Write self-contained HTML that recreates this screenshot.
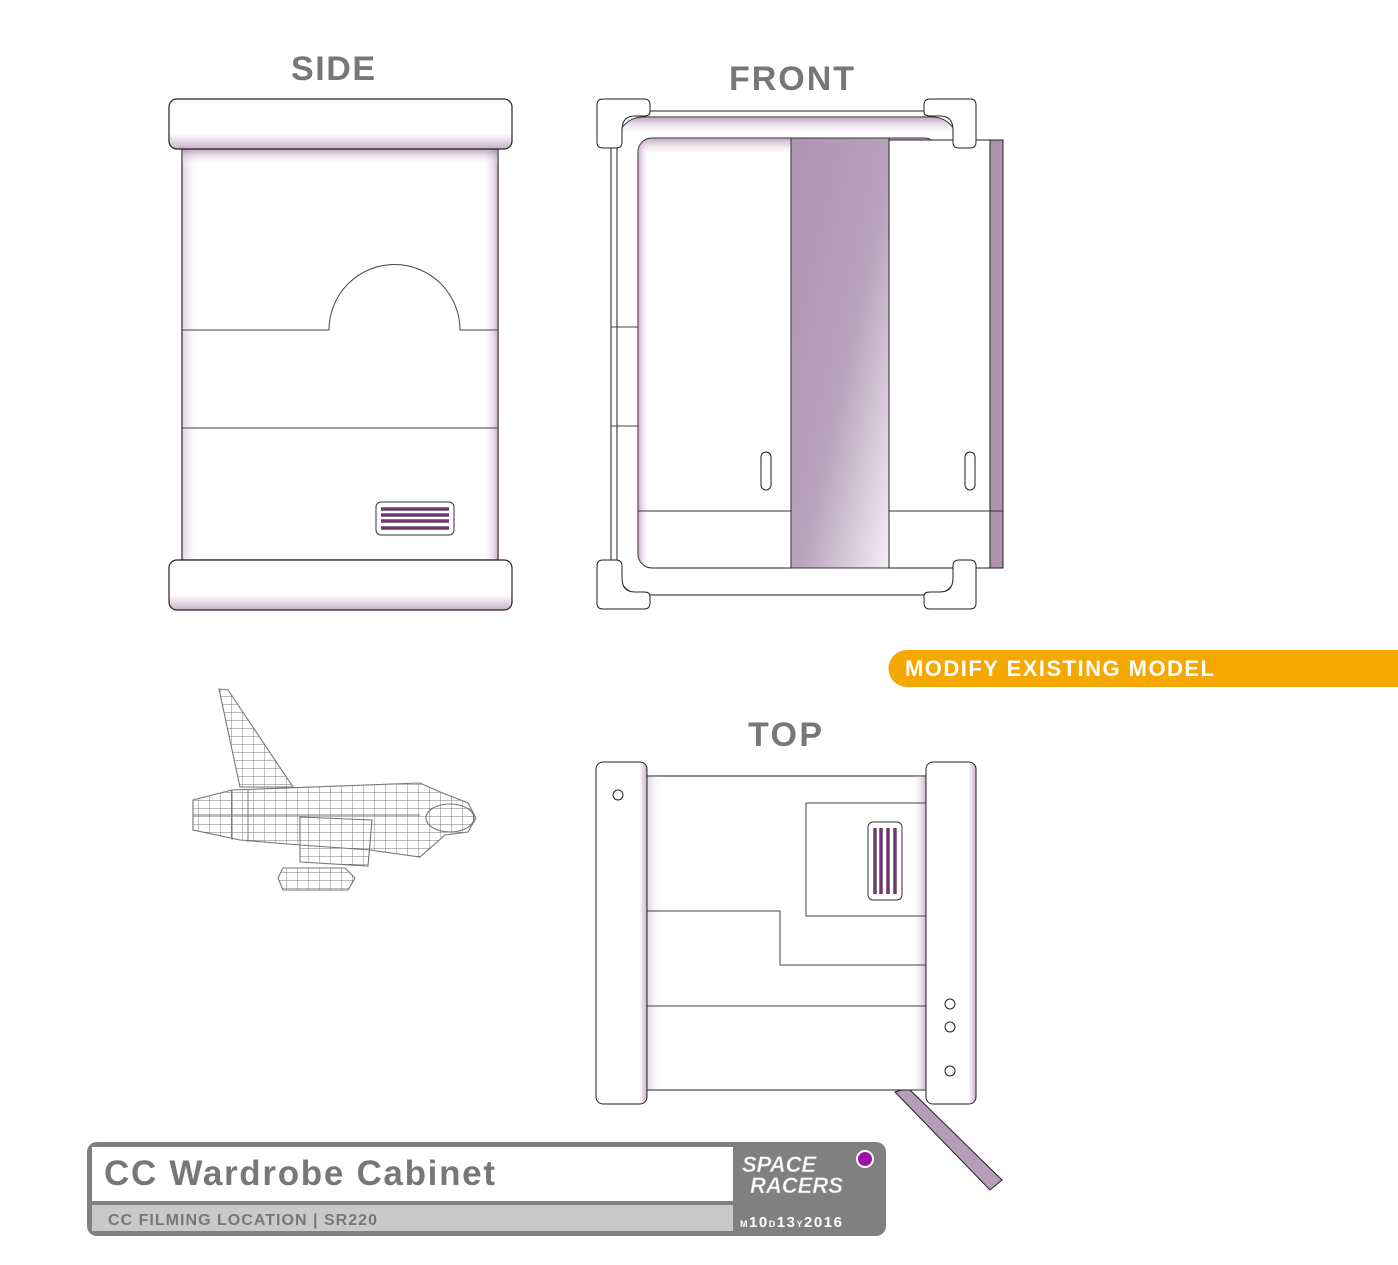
<!DOCTYPE html>
<html><head><meta charset="utf-8"><style>
html,body{margin:0;padding:0;background:#fff}
svg{display:block}
</style></head><body>
<svg width="1398" height="1265" viewBox="0 0 1398 1265" xmlns="http://www.w3.org/2000/svg" font-family="Liberation Sans, Arial, sans-serif">
<defs>
<linearGradient id="lv" x1="0" x2="1" y1="0" y2="0"><stop offset="0" stop-color="#8a5a8a" stop-opacity=".25"/><stop offset=".06" stop-color="#fff" stop-opacity="0"/><stop offset=".95" stop-color="#fff" stop-opacity="0"/><stop offset="1" stop-color="#8a5a8a" stop-opacity=".45"/></linearGradient>
<linearGradient id="tv" x1="0" x2="0" y1="0" y2="1"><stop offset="0" stop-color="#8a5a8a" stop-opacity=".55"/><stop offset=".04" stop-color="#fff" stop-opacity="0"/><stop offset="1" stop-color="#fff" stop-opacity="0"/></linearGradient>
<linearGradient id="cap" x1="0" x2="0" y1="0" y2="1"><stop offset="0" stop-color="#fff"/><stop offset=".7" stop-color="#fff"/><stop offset="1" stop-color="#c8b0c8"/></linearGradient>
<linearGradient id="strip" x1="0" x2="1" y1="0" y2="1"><stop offset="0" stop-color="#ad93b0"/><stop offset=".55" stop-color="#b9a3bd"/><stop offset="1" stop-color="#f5eef5"/></linearGradient>
<linearGradient id="barL" x1="0" x2="1"><stop offset="0" stop-color="#fff"/><stop offset=".85" stop-color="#fff"/><stop offset="1" stop-color="#c8b0c8"/></linearGradient>
<linearGradient id="tl" x1="0" x2="1"><stop offset="0" stop-color="#8a5a8a" stop-opacity=".5"/><stop offset=".04" stop-color="#fff" stop-opacity="0"/></linearGradient>
<pattern id="grid" width="11" height="8" patternUnits="userSpaceOnUse"><path d="M0 0H11M0 0V8" stroke="#777" stroke-width=".9" fill="none"/></pattern>
</defs>

<!-- SIDE -->
<text x="291" y="80" textLength="84" font-size="34" font-weight="bold" fill="#777">SIDE</text>
<rect x="182" y="149" width="316" height="411" fill="#fff" stroke="#222" stroke-width="1.2"/>
<rect x="182" y="149" width="316" height="411" fill="url(#lv)"/>
<rect x="182" y="149" width="316" height="411" fill="url(#tv)"/>
<path d="M182 330H329A65 65 0 0 1 460 330H498" fill="none" stroke="#444"/>
<line x1="182" y1="428" x2="498" y2="428" stroke="#444"/>
<rect x="376" y="502" width="78" height="33" rx="5" fill="#fff" stroke="#333"/>
<g stroke="#6b3a6b" stroke-width="3.5"><line x1="381" y1="509" x2="449" y2="509"/><line x1="381" y1="515" x2="449" y2="515"/><line x1="381" y1="521" x2="449" y2="521"/><line x1="381" y1="528" x2="449" y2="528"/></g>
<rect x="169" y="99" width="343" height="50" rx="8" fill="url(#cap)" stroke="#222" stroke-width="1.2"/>
<rect x="169" y="560" width="343" height="50" rx="8" fill="url(#cap)" stroke="#222" stroke-width="1.2"/>

<!-- FRONT -->
<text x="729" y="90" textLength="125" font-size="34" font-weight="bold" fill="#777">FRONT</text>
<path d="M611 148V565M650 111H925" stroke="#222" fill="none"/>
<rect x="617" y="117" width="341" height="478" rx="26" fill="#fff" stroke="#222"/>
<rect x="617" y="117" width="341" height="478" rx="26" fill="url(#tv)"/>
<line x1="611" y1="327" x2="638" y2="327" stroke="#444"/>
<line x1="611" y1="426" x2="638" y2="426" stroke="#444"/>
<rect x="638" y="138" width="300" height="430" rx="14" fill="#fff" stroke="#222"/>
<rect x="638" y="138" width="300" height="430" rx="14" fill="url(#tl)"/>
<rect x="638" y="138" width="300" height="430" rx="14" fill="url(#tv)"/>
<rect x="791" y="138" width="98" height="430" fill="url(#strip)" stroke="#333"/>
<rect x="889" y="140" width="101" height="428" fill="#fff" stroke="#222"/>
<rect x="990" y="140" width="13" height="428" fill="#ad93b0" stroke="#222"/>
<line x1="638" y1="511" x2="791" y2="511" stroke="#333"/>
<line x1="889" y1="511" x2="1003" y2="511" stroke="#333"/>
<rect x="761" y="452" width="10" height="38" rx="5" fill="#fff" stroke="#222"/>
<rect x="965" y="452" width="10" height="38" rx="5" fill="#fff" stroke="#222"/>
<g fill="#fff" stroke="#222">
<path d="M603 99H644Q650 99 650 105V112Q650 116 644 116H635Q622 116 622 130V142Q622 148 616 148H603Q597 148 597 142V105Q597 99 603 99Z"/>
<path d="M970 99H930Q924 99 924 105V112Q924 116 930 116H940Q953 116 953 130V142Q953 148 959 148H970Q976 148 976 142V105Q976 99 970 99Z"/>
<path d="M603 609H644Q650 609 650 603V596Q650 592 644 592H635Q622 592 622 578V566Q622 560 616 560H603Q597 560 597 566V603Q597 609 603 609Z"/>
<path d="M970 609H930Q924 609 924 603V596Q924 592 930 592H940Q953 592 953 578V566Q953 560 959 560H970Q976 560 976 566V603Q976 609 970 609Z"/>
</g>

<!-- banner -->
<path d="M907 650H1398V687H907A18.5 18.5 0 0 1 907 650Z" fill="#f5a800"/>
<text x="905" y="676" textLength="309" font-size="22" font-weight="bold" fill="#fff">MODIFY EXISTING MODEL</text>

<!-- TOP -->
<text x="748" y="746" textLength="74" font-size="34" font-weight="bold" fill="#777">TOP</text>
<path d="M895 1092L990 1190L1002 1180L908 1088Z" fill="#b79db9" stroke="#222"/>
<rect x="647" y="776" width="279" height="314" fill="#fff" stroke="#222"/>
<rect x="647" y="776" width="279" height="314" fill="url(#lv)"/>
<rect x="806" y="803" width="120" height="113" fill="none" stroke="#444"/>
<rect x="868" y="822" width="34" height="78" rx="5" fill="#fff" stroke="#333"/>
<g stroke="#6b3a6b" stroke-width="3.5"><line x1="875" y1="828" x2="875" y2="894"/><line x1="881" y1="828" x2="881" y2="894"/><line x1="888" y1="828" x2="888" y2="894"/><line x1="895" y1="828" x2="895" y2="894"/></g>
<path d="M647 911H780V965H926" fill="none" stroke="#444"/>
<line x1="647" y1="1006" x2="926" y2="1006" stroke="#444"/>
<rect x="596" y="762" width="51" height="342" rx="7" fill="url(#barL)" stroke="#222"/>
<rect x="926" y="762" width="50" height="342" rx="7" fill="url(#barL)" stroke="#222"/>
<g fill="#fff" stroke="#222"><circle cx="618" cy="795" r="5"/><circle cx="950" cy="1004" r="5"/><circle cx="950" cy="1027" r="5"/><circle cx="950" cy="1071" r="5"/></g>

<!-- SHIP -->
<g stroke="#777" stroke-width="1.1" fill="url(#grid)">
<path d="M219 689L228 690L293 787L240 787Z"/>
<path d="M193 800L232 790L420 783L440 792L468 803L476 818L468 832L445 835L420 857L370 850L300 845L240 840L193 830Z"/>
<path d="M300 817L372 820L368 866L300 862Z"/>
<path d="M283 868L345 868L355 878L348 890L283 890L278 878Z"/>
<ellipse cx="450" cy="818" rx="24" ry="14"/>
</g>
<g stroke="#777" fill="none"><path d="M193 815H420M232 790V840M248 790V842"/></g>

<!-- TITLE BLOCK -->
<rect x="87" y="1142" width="799" height="94" rx="10" fill="#808080"/>
<rect x="92" y="1147" width="641" height="54" fill="#fff"/>
<rect x="92" y="1205" width="641" height="26" fill="#c9c9c9"/>
<text x="104" y="1185" textLength="391" font-size="35" font-weight="bold" fill="#777">CC Wardrobe Cabinet</text>
<text x="108" y="1225" textLength="269" font-size="16" font-weight="bold" fill="#777">CC FILMING LOCATION | SR220</text>
<text x="742" y="1172" font-size="22" font-weight="bold" font-style="italic" fill="#fff" stroke="#999" stroke-width=".6">SPACE</text>
<text x="750" y="1193" font-size="22" font-weight="bold" font-style="italic" fill="#fff" stroke="#999" stroke-width=".6">RACERS</text>
<text x="740" y="1227" textLength="102" font-size="15" font-weight="bold" fill="#fff"><tspan font-size="9">M</tspan>10<tspan font-size="9">D</tspan>13<tspan font-size="9">Y</tspan>2016</text>
<circle cx="865" cy="1159" r="8" fill="#a010a8" stroke="#fff" stroke-width="2"/>
</svg>
</body></html>
